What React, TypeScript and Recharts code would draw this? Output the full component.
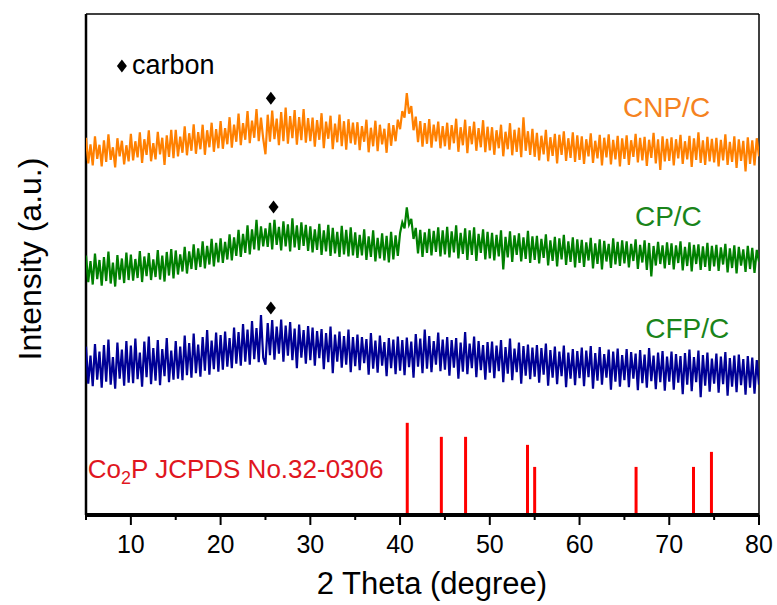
import React from 'react';
import { ComposedChart, Line, XAxis, YAxis, ReferenceLine, ReferenceDot, Scatter, Customized } from 'recharts';

const FONT = '"Liberation Sans", Arial, Helvetica, sans-serif';

// 2θ grid: 5° to 80°, 0.25° step
const thetaStart = 5;
const thetaStep = 0.25;

const cnpC = [
  75.3, 70.2, 74.0, 69.8, 75.6, 71.1, 73.9, 69.6, 74.8, 70.5, 76.0, 70.9, 73.4, 69.4, 75.2, 71.6, 74.7, 70.0, 73.8, 70.6,
  76.1, 70.8, 74.6, 71.4, 76.4, 70.3, 75.0, 71.9, 76.8, 70.6, 74.2, 71.0, 76.5, 72.0, 75.3, 69.9, 75.8, 71.5, 76.9, 71.2,
  76.9, 71.6, 75.5, 72.3, 77.6, 71.8, 76.2, 72.7, 78.0, 72.1, 76.4, 73.0, 77.9, 71.9, 76.8, 73.4, 78.3, 72.5, 77.0, 73.2,
  78.6, 73.1, 77.2, 74.0, 79.4, 73.3, 77.9, 74.5, 80.1, 73.8, 78.2, 74.9, 80.6, 74.2, 78.7, 75.3, 81.0, 74.6, 79.3, 75.1,
  72.0, 79.9, 74.5, 80.7, 75.0, 79.1, 73.8, 80.4, 74.6, 81.3, 74.1, 79.6, 75.2, 80.8, 73.9, 79.4, 74.8, 81.0, 74.3, 79.2,
  74.6, 79.3, 73.5, 78.8, 74.9, 80.2, 73.2, 78.5, 75.1, 79.7, 73.0, 78.1, 74.4, 79.9, 73.6, 78.6, 72.9, 79.0, 74.2, 78.3,
  73.9, 78.4, 72.8, 77.6, 74.5, 78.9, 72.4, 77.3, 73.6, 78.7, 72.6, 77.9, 74.0, 77.1, 72.3, 78.2, 73.7, 77.8, 74.6, 78.9,
  77.0, 80.6, 79.3, 84.2, 80.1, 81.6, 76.8, 79.5, 74.4, 78.6, 73.5, 78.2, 74.1, 79.0, 73.3, 77.9, 74.6, 78.5, 73.2, 77.6,
  73.6, 78.3, 72.9, 77.8, 74.2, 79.1, 72.5, 77.4, 73.8, 78.9, 72.2, 77.6, 74.0, 78.5, 72.7, 77.2, 73.4, 78.8, 72.4, 77.5,
  72.8, 77.4, 71.9, 76.8, 73.2, 77.9, 71.6, 76.5, 73.0, 78.2, 71.8, 76.9, 72.5, 77.3, 71.4, 79.4, 72.7, 76.6, 71.9, 77.1,
  71.5, 76.3, 70.8, 75.7, 72.0, 76.9, 70.6, 75.4, 71.7, 76.1, 70.2, 75.9, 71.9, 76.6, 70.7, 75.2, 71.3, 76.4, 70.5, 75.8,
  70.9, 75.6, 70.1, 75.0, 71.6, 76.2, 70.3, 74.7, 71.2, 75.9, 69.8, 75.3, 71.4, 76.0, 70.0, 74.9, 71.0, 75.7, 69.6, 75.2,
  71.1, 75.8, 69.9, 74.8, 71.5, 76.1, 70.4, 75.3, 70.8, 75.5, 69.7, 74.9, 71.3, 76.3, 70.2, 75.0, 68.9, 75.6, 70.6, 75.1,
  70.7, 75.4, 69.8, 75.0, 71.2, 75.9, 70.1, 74.6, 71.0, 75.7, 69.5, 75.2, 70.9, 76.4, 70.3, 74.8, 69.9, 75.5, 70.6, 75.1,
  70.4, 75.3, 69.6, 74.9, 70.8, 76.0, 69.9, 74.5, 70.5, 75.6, 69.3, 75.0, 70.7, 74.7, 68.6, 75.4, 70.1, 74.8, 69.8, 75.2,
  71.6,
];

const cpC = [
  51.8, 46.5, 50.7, 46.0, 52.2, 47.1, 50.9, 45.8, 51.5, 46.7, 52.6, 46.2, 50.4, 45.6, 51.9, 47.0, 51.2, 46.3, 52.4, 46.9,
  52.0, 46.8, 51.1, 47.3, 52.7, 46.5, 51.6, 47.7, 52.3, 46.9, 51.0, 47.5, 52.9, 47.0, 51.8, 46.6, 52.5, 47.8, 53.1, 47.2,
  52.8, 48.0, 52.0, 48.6, 53.5, 48.2, 52.6, 49.1, 54.0, 48.9, 53.2, 49.5, 54.6, 49.2, 53.7, 50.0, 55.1, 49.6, 54.3, 50.4,
  55.2, 50.3, 54.5, 51.0, 56.0, 50.8, 55.4, 51.7, 56.9, 51.5, 56.1, 52.3, 57.8, 52.0, 57.0, 53.0, 58.9, 52.8, 57.6, 53.6,
  57.2, 53.5, 58.3, 53.0, 58.9, 53.9, 57.5, 52.8, 58.6, 53.6, 58.0, 52.6, 59.2, 53.4, 57.8, 52.9, 58.4, 53.7, 57.9, 52.7,
  57.6, 52.4, 57.0, 52.9, 58.1, 51.9, 56.8, 52.6, 57.9, 51.7, 57.3, 52.2, 56.5, 51.5, 57.7, 52.0, 56.9, 51.6, 57.4, 51.8,
  56.4, 51.3, 55.9, 51.8, 57.0, 50.9, 55.6, 51.5, 56.8, 50.6, 55.3, 51.2, 56.2, 50.8, 55.7, 50.4, 56.5, 51.0, 55.8, 51.7,
  56.3, 58.4, 57.2, 61.4, 58.0, 59.1, 55.1, 57.3, 52.2, 56.9, 51.5, 56.4, 52.3, 57.1, 51.8, 56.7, 52.5, 57.4, 51.6, 56.8,
  52.0, 57.5, 51.4, 56.6, 52.4, 57.8, 51.2, 56.3, 52.1, 57.2, 50.9, 56.8, 51.9, 57.4, 50.7, 56.1, 52.3, 57.0, 51.0, 56.5,
  51.2, 56.3, 50.8, 55.9, 51.6, 56.8, 49.0, 55.5, 51.4, 56.6, 50.5, 55.8, 51.9, 56.2, 50.6, 55.4, 51.1, 56.7, 50.3, 55.6,
  50.9, 55.7, 50.2, 55.1, 51.3, 56.0, 49.8, 54.8, 50.7, 55.5, 49.6, 55.2, 51.0, 55.9, 49.9, 54.6, 50.5, 55.4, 49.4, 55.0,
  50.3, 54.9, 49.5, 54.4, 50.8, 55.3, 49.2, 54.2, 50.1, 55.0, 49.0, 54.7, 50.6, 54.1, 49.3, 55.2, 50.0, 54.5, 49.7, 54.8,
  50.2, 54.6, 49.4, 54.1, 50.7, 55.0, 49.1, 53.9, 50.4, 54.8, 48.9, 54.3, 47.6, 53.7, 49.8, 54.5, 50.1, 53.8, 49.2, 54.4,
  49.9, 54.2, 49.0, 53.8, 50.3, 54.6, 48.8, 53.5, 49.7, 54.4, 48.6, 53.9, 50.1, 54.0, 48.9, 53.6, 49.5, 54.3, 48.7, 53.7,
  49.6, 53.9, 48.7, 53.4, 50.0, 54.1, 48.4, 53.2, 49.3, 53.8, 48.2, 53.5, 49.8, 53.0, 48.5, 53.7, 49.1, 53.3, 48.3, 52.9,
  50.6,
];

const cfpC = [
  33.6, 26.2, 31.8, 25.7, 34.1, 27.0, 32.6, 25.4, 33.9, 26.6, 35.0, 26.0, 31.5, 25.2, 34.4, 27.2, 33.0, 25.8, 34.7, 26.4,
  33.8, 26.3, 35.2, 27.1, 32.4, 25.6, 34.6, 27.5, 35.6, 26.1, 33.3, 26.8, 34.9, 25.9, 33.1, 27.7, 35.3, 26.5, 32.8, 27.0,
  34.7, 27.2, 33.6, 26.9, 35.8, 27.9, 34.3, 27.4, 36.2, 28.3, 34.0, 27.6, 35.5, 28.8, 36.9, 28.0, 34.8, 29.1, 36.4, 28.6,
  35.9, 29.0, 36.6, 29.6, 35.3, 29.3, 37.4, 30.2, 36.5, 29.8, 38.1, 30.6, 37.0, 30.0, 38.7, 31.1, 37.3, 30.5, 39.9, 31.4,
  30.0, 38.3, 31.9, 38.9, 31.0, 37.6, 32.2, 39.0, 30.6, 37.8, 31.8, 38.5, 30.9, 37.2, 29.3, 38.0, 31.4, 36.9, 30.2, 37.7,
  30.9, 37.4, 29.8, 36.7, 31.3, 37.1, 29.1, 36.3, 30.5, 37.6, 28.3, 36.0, 30.6, 36.6, 29.4, 35.7, 30.0, 37.0, 28.5, 35.5,
  29.7, 36.0, 28.9, 35.5, 30.3, 35.1, 28.0, 36.3, 29.2, 34.8, 28.4, 35.8, 29.8, 34.5, 27.7, 35.3, 29.3, 35.0, 28.1, 35.6,
  28.8, 34.9, 27.9, 35.4, 29.5, 34.6, 27.4, 36.1, 29.6, 35.2, 28.3, 37.0, 29.2, 35.7, 28.5, 34.7, 30.0, 36.4, 28.7, 35.0,
  29.0, 35.5, 27.8, 34.9, 29.4, 35.3, 27.2, 34.4, 28.6, 36.5, 28.1, 34.2, 29.3, 35.6, 27.5, 34.7, 28.9, 33.9, 27.0, 34.5,
  28.4, 34.6, 27.3, 33.8, 28.7, 34.9, 26.5, 33.5, 28.2, 35.2, 26.9, 33.2, 28.5, 34.4, 26.2, 33.7, 27.8, 34.0, 27.1, 33.4,
  27.6, 33.9, 26.4, 33.3, 28.0, 34.2, 25.8, 32.9, 27.4, 33.6, 26.1, 32.6, 27.7, 33.8, 25.5, 32.4, 27.2, 33.1, 25.9, 32.7,
  27.3, 33.4, 25.7, 32.8, 27.5, 33.7, 25.2, 32.3, 26.8, 33.5, 26.0, 32.1, 27.4, 33.0, 25.0, 32.6, 26.6, 33.2, 25.6, 31.9,
  26.9, 33.1, 25.5, 32.5, 27.2, 32.2, 24.9, 32.9, 26.3, 32.0, 25.4, 33.3, 26.7, 31.8, 25.1, 32.4, 26.5, 32.7, 24.8, 31.6,
  26.6, 32.6, 25.0, 32.1, 26.4, 31.7, 24.1, 32.3, 26.0, 33.0, 24.7, 31.5, 26.5, 32.8, 23.5, 31.9, 25.8, 32.4, 24.6, 31.2,
  26.2, 32.2, 24.4, 31.6, 26.1, 32.5, 23.8, 31.3, 25.6, 31.8, 24.5, 32.0, 25.9, 31.1, 24.0, 31.7, 25.4, 31.4, 24.2, 30.9,
  26.0,
];

// Co2P JCPDS No.32-0306 reference peaks
const refPositions = [40.8, 44.6, 47.3, 54.2, 55.0, 66.3, 72.7, 74.7];
const refHeights = [18.4, 15.6, 15.6, 14.0, 9.6, 9.6, 9.6, 12.6];

// carbon markers
const carbonX = [25.6, 25.9, 25.6];
const carbonY = [83.2, 61.5, 41.3];

const xTicks = [5, 10, 15, 20, 25, 30, 35, 40, 45, 50, 55, 60, 65, 70, 75, 80];

const data = cnpC.map((v, i) => ({
  x: thetaStart + i * thetaStep,
  cnp: v,
  cp: cpC[i],
  cfp: cfpC[i],
}));

const diamonds = carbonX.map((x, i) => ({ x, y: carbonY[i] }));

const Diamond = (p: any) => (
  <path
    d={`M${p.cx},${p.cy - 6.5} L${p.cx + 5},${p.cy} L${p.cx},${p.cy + 6.5} L${p.cx - 5},${p.cy} Z`}
    fill="#000"
  />
);

const XTick = (props: any) => {
  const { x, y, payload } = props;
  const major = payload.value % 10 === 0;
  return (
    <g>
      <line x1={x} x2={x} y1={y} y2={y + (major ? 10 : 5)} stroke="#000" strokeWidth={2} />
      {major && (
        <text x={x} y={y + 38} textAnchor="middle" fontSize={25} fontFamily={FONT} fill="#000">
          {payload.value}
        </text>
      )}
    </g>
  );
};

const textShape = (content: React.ReactNode, color: string, size: number, anchor: string) => (p: any) => (
  <text x={p.cx} y={p.cy} fill={color} fontSize={size} fontFamily={FONT} textAnchor={anchor}>
    {content}
  </text>
);

const legendShape = (p: any) => (
  <g>
    <path
      d={`M${p.cx},${p.cy - 6.5} L${p.cx + 5},${p.cy} L${p.cx},${p.cy + 6.5} L${p.cx - 5},${p.cy} Z`}
      fill="#000"
    />
    <text x={p.cx + 10} y={p.cy + 8} fontSize={27} fontFamily={FONT} fill="#000">
      carbon
    </text>
  </g>
);

const Titles = () => (
  <g>
    <text
      x={41}
      y={259}
      transform="rotate(-90 41 259)"
      textAnchor="middle"
      fontSize={32}
      fontFamily={FONT}
      fill="#000"
    >
      Intensity (a.u.)
    </text>
    <text x={432} y={594} textAnchor="middle" fontSize={31} fontFamily={FONT} fill="#000">
      2 Theta (degree)
    </text>
  </g>
);

export default function App() {
  return (
    <div style={{ position: 'absolute', left: 0, top: 0, width: 777, height: 605, background: '#fff' }}>
      <ComposedChart width={777} height={605} data={data} margin={{ top: 14, right: 18, bottom: 30, left: 86 }}>
        <XAxis
          dataKey="x"
          type="number"
          domain={[5, 80]}
          ticks={xTicks}
          interval={0}
          height={60}
          tickLine={false}
          tickSize={0}
          tickMargin={0}
          tick={<XTick />}
          axisLine={{ stroke: '#000', strokeWidth: 4 }}
          allowDataOverflow
        />
        <YAxis type="number" domain={[0, 100]} hide allowDataOverflow />
        <ReferenceLine x={5} stroke="#000" strokeWidth={2.5} />
        <ReferenceLine x={80} stroke="#000" strokeWidth={1.5} />
        <ReferenceLine y={100} stroke="#000" strokeWidth={1.5} />
        {refPositions.map((pos, i) => (
          <ReferenceLine
            key={`ref-${i}`}
            segment={[
              { x: pos, y: 0 },
              { x: pos, y: refHeights[i] },
            ]}
            stroke="#ff0000"
            strokeWidth={3}
          />
        ))}
        <Line dataKey="cnp" stroke="#ff8000" strokeWidth={2.2} strokeLinejoin="miter" dot={false} isAnimationActive={false} />
        <Line dataKey="cp" stroke="#008000" strokeWidth={2.2} strokeLinejoin="miter" dot={false} isAnimationActive={false} />
        <Line dataKey="cfp" stroke="#000096" strokeWidth={2.2} strokeLinejoin="miter" dot={false} isAnimationActive={false} />
        <Scatter data={diamonds} dataKey="y" shape={<Diamond />} isAnimationActive={false} />
        <ReferenceDot x={69.7} y={79.4} r={0} shape={textShape('CNP/C', '#f58220', 28, 'middle')} />
        <ReferenceDot x={69.9} y={57.7} r={0} shape={textShape('CP/C', '#1a841a', 28, 'middle')} />
        <ReferenceDot x={72.0} y={35.3} r={0} shape={textShape('CFP/C', '#1a841a', 28, 'middle')} />
        <ReferenceDot x={9.0} y={89.6} r={0} shape={legendShape} />
        <ReferenceDot
          x={5.2}
          y={7.4}
          r={0}
          shape={textShape(
            <>
              Co<tspan dy={6} fontSize={18}>2</tspan>
              <tspan dy={-6}>P JCPDS No.32-0306</tspan>
            </>,
            '#e0161e',
            26,
            'start'
          )}
        />
        <Customized component={Titles} />
      </ComposedChart>
    </div>
  );
}
